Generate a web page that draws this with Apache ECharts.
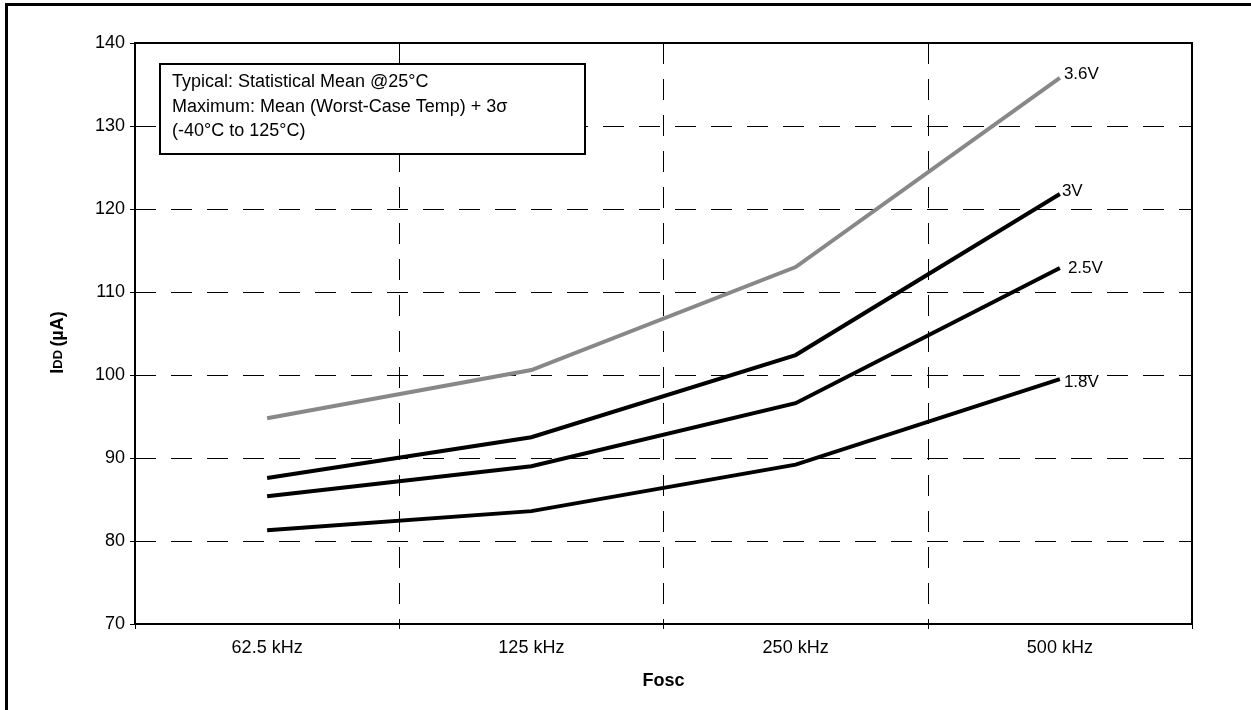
<!DOCTYPE html>
<html>
<head>
<meta charset="utf-8">
<script src="https://cdn.jsdelivr.net/npm/echarts@6/dist/echarts.min.js"></script>
<style>html,body{margin:0;padding:0;background:#fff;}#c{width:1251px;height:710px;}</style>
</head>
<body>
<div id="c"></div>
<script>
var categories = ['62.5 kHz', '125 kHz', '250 kHz', '500 kHz'];
var v36 = [94.8, 100.6, 113.0, 135.8];
var v30 = [87.6, 92.5, 102.4, 121.8];
var v25 = [85.4, 89.0, 96.6, 112.9];
var v18 = [81.3, 83.6, 89.2, 99.5];
var seriesNames = ['3.6V', '3V', '2.5V', '1.8V'];
var yTicks = {min: 70, max: 140, interval: 10};
var noteLines = ['Typical: Statistical Mean @25°C', 'Maximum: Mean (Worst-Case Temp) + 3σ', '(-40°C to 125°C)'];

var FONT = '"Liberation Sans", Arial, sans-serif';
var FS = 18;
var chart = echarts.init(document.getElementById('c'), null, {renderer: 'canvas'});

function mk(name, data, color, offset) {
  return {
    name: name, type: 'line', data: data, symbol: 'none', silent: true,
    lineStyle: {color: color, width: 4, cap: 'butt', join: 'miter'},
    itemStyle: {color: color},
    endLabel: {show: true, formatter: '{a}', color: '#000', fontFamily: FONT, fontSize: FS - 1, offset: offset, distance: 4},
    z: 5
  };
}

var option = {
  backgroundColor: '#fff',
  animation: false,
  grid: {left: 135, right: 59, top: 43, bottom: 86, show: true, borderColor: '#000', borderWidth: 2, containLabel: false},
  xAxis: {
    type: 'category', data: categories, boundaryGap: true,
    name: 'Fosc', nameLocation: 'middle', nameGap: 48,
    nameTextStyle: {fontFamily: FONT, fontSize: FS, fontWeight: 'bold', color: '#000'},
    axisLine: {lineStyle: {color: '#000', width: 2}},
    axisTick: {show: true, length: 5, lineStyle: {color: '#000', width: 1}, alignWithLabel: false},
    axisLabel: {fontFamily: FONT, fontSize: FS, color: '#000', margin: 15},
    splitLine: {show: true, lineStyle: {color: '#000', width: 1, type: [21, 15]}}
  },
  yAxis: [{
    type: 'value', min: yTicks.min, max: yTicks.max, interval: yTicks.interval,
    name: '{a|I}{b|DD} {a|(µA)}', nameLocation: 'middle', nameGap: 68, nameRotate: 90,
    nameTextStyle: {fontFamily: FONT, fontWeight: 'bold', color: '#000', padding: [0, 18, 0, 0], rich: {
      a: {fontFamily: FONT, fontSize: FS, fontWeight: 'bold', color: '#000'},
      b: {fontFamily: FONT, fontSize: 13, fontWeight: 'bold', color: '#000'}
    }},
    axisLine: {show: true, lineStyle: {color: '#000', width: 2}},
    axisTick: {show: true, length: 5, lineStyle: {color: '#000', width: 1}},
    axisLabel: {fontFamily: FONT, fontSize: FS, color: '#000', margin: 10},
    splitLine: {show: true, lineStyle: {color: '#000', width: 1, type: [21, 15]}}
  }, {
    type: 'value', position: 'left', min: yTicks.min, max: yTicks.max, interval: yTicks.interval,
    axisLine: {show: false}, axisLabel: {show: false}, splitLine: {show: false},
    axisTick: {show: true, inside: true, length: 5, lineStyle: {color: '#000', width: 1}}
  }],
  series: [
    mk(seriesNames[0], v36, '#888888', [0, -4]),
    mk(seriesNames[1], v30, '#000000', [-2, -3]),
    mk(seriesNames[2], v25, '#000000', [4, 0]),
    mk(seriesNames[3], v18, '#000000', [0, 3])
  ],
  graphic: [
    {type: 'rect', shape: {x: 6.5, y: 4.5, width: 1300, height: 800}, style: {fill: 'none', stroke: '#000', lineWidth: 3}, silent: true},
    {type: 'rect', shape: {x: 160, y: 64, width: 425, height: 90}, style: {fill: '#fff', stroke: '#000', lineWidth: 2}, z: 10},
    {type: 'text', x: 172, y: 82, style: {text: noteLines[0], fontFamily: FONT, fontSize: FS, fill: '#000', verticalAlign: 'middle'}, z: 11},
    {type: 'text', x: 172, y: 107, style: {text: noteLines[1], fontFamily: FONT, fontSize: FS, fill: '#000', verticalAlign: 'middle'}, z: 11},
    {type: 'text', x: 172, y: 131, style: {text: noteLines[2], fontFamily: FONT, fontSize: FS, fill: '#000', verticalAlign: 'middle'}, z: 11}
  ]
};
chart.setOption(option);
</script>
</body>
</html>
